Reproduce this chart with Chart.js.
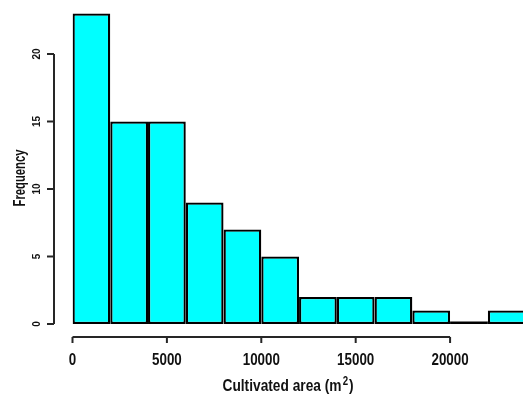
<!DOCTYPE html>
<html><head><meta charset="utf-8">
<script src="https://cdn.jsdelivr.net/npm/chart.js@4/dist/chart.umd.min.js"></script>
<style>html,body{margin:0;padding:0;overflow:hidden;background:#fff;width:523px;height:396px}canvas{display:block}</style>
</head><body>
<canvas id="c" width="530" height="396"></canvas>
<script>
const binStarts = [0,2000,4000,6000,8000,10000,12000,14000,16000,18000,20000,22000];
const binEnds   = [2000,4000,6000,8000,10000,12000,14000,16000,18000,20000,22000,24000];
const counts    = [23,15,15,9,7,5,2,2,2,1,0,1];
const xTickValues = [0,5000,10000,15000,20000];
const xTickLabels = ['0','5000','10000','15000','20000'];
const yTickValues = [0,5,10,15,20];
const yTickLabels = ['0','5','10','15','20'];
const xTitleMain = 'Cultivated area (m';
const xTitleSup = '2';
const xTitleEnd = ')';
const yTitle = 'Frequency';

const FONT = '"Liberation Sans", Arial, sans-serif';
const INK = '#111';

function drawText(ctx, s, x, y, size, rot, sx, baseline) {
  ctx.save();
  ctx.font = 'bold ' + size + 'px ' + FONT;
  ctx.translate(x, y); ctx.rotate(rot); ctx.scale(sx, 1);
  ctx.textAlign = 'center'; ctx.textBaseline = baseline || 'alphabetic';
  ctx.fillStyle = INK;
  ctx.fillText(s, 0, 0);
  ctx.restore();
}

const axesPlugin = {
  id: 'rAxes',
  afterDatasetsDraw(chart) {
    const ctx = chart.ctx, xs = chart.scales.x, ys = chart.scales.y;
    const base = ys.getPixelForValue(0);
    ctx.save();
    ctx.strokeStyle = '#000'; ctx.lineWidth = 2.4;
    counts.forEach((c, i) => {
      if (c === 0) {
        ctx.beginPath();
        ctx.moveTo(xs.getPixelForValue(binStarts[i]), base - 1.2);
        ctx.lineTo(xs.getPixelForValue(binEnds[i]), base - 1.2);
        ctx.stroke();
      }
    });
    ctx.restore();
  },
  afterDraw(chart) {
    const ctx = chart.ctx, xs = chart.scales.x, ys = chart.scales.y, ca = chart.chartArea;
    ctx.save();
    ctx.strokeStyle = '#262626'; ctx.lineWidth = 2;
    // y axis
    const yAxisX = ca.left - 18.5;
    const yTop = ys.getPixelForValue(yTickValues[yTickValues.length - 1]);
    const yBot = ys.getPixelForValue(yTickValues[0]);
    ctx.beginPath(); ctx.moveTo(yAxisX, yTop); ctx.lineTo(yAxisX, yBot); ctx.stroke();
    yTickValues.forEach((v, i) => {
      const p = ys.getPixelForValue(v);
      ctx.beginPath(); ctx.moveTo(yAxisX, p); ctx.lineTo(yAxisX - 7, p); ctx.stroke();
      drawText(ctx, yTickLabels[i], yAxisX - 16.5, p, 10, -Math.PI / 2, 1.0, 'middle');
    });
    // x axis
    const xAxisY = ca.bottom + 13;
    const xL = xs.getPixelForValue(xTickValues[0]);
    const xR = xs.getPixelForValue(xTickValues[xTickValues.length - 1]);
    ctx.beginPath(); ctx.moveTo(xL, xAxisY); ctx.lineTo(xR, xAxisY); ctx.stroke();
    xTickValues.forEach((v, i) => {
      const p = xs.getPixelForValue(v);
      ctx.beginPath(); ctx.moveTo(p, xAxisY); ctx.lineTo(p, xAxisY + 6); ctx.stroke();
      drawText(ctx, xTickLabels[i], p, xAxisY + 28, 16.5, 0, 0.81);
    });
    // x title with superscript
    const cx = 288, ty = xAxisY + 54, targetLen = 131;
    ctx.font = 'bold 17px ' + FONT;
    const w1 = ctx.measureText(xTitleMain).width, w3 = ctx.measureText(xTitleEnd).width;
    ctx.font = 'bold 12px ' + FONT;
    const w2 = ctx.measureText(xTitleSup).width;
    const nat = w1 + 1.5 + w2 + 1 + w3;
    const sx = targetLen / nat;
    let x0 = cx - targetLen / 2;
    ctx.fillStyle = INK; ctx.textBaseline = 'alphabetic'; ctx.textAlign = 'left';
    ctx.save(); ctx.translate(x0, ty); ctx.scale(sx, 1);
    ctx.font = 'bold 17px ' + FONT; ctx.fillText(xTitleMain, 0, 0);
    ctx.font = 'bold 12px ' + FONT; ctx.fillText(xTitleSup, w1 + 1.5, -6);
    ctx.font = 'bold 17px ' + FONT; ctx.fillText(xTitleEnd, w1 + 1.5 + w2 + 1, 0);
    ctx.restore();
    // y title
    ctx.font = 'bold 16px ' + FONT;
    const wy = ctx.measureText(yTitle).width;
    drawText(ctx, yTitle, 25, 178, 16, -Math.PI / 2, 57 / wy);
    ctx.restore();
  }
};

new Chart(document.getElementById('c'), {
  type: 'bar',
  data: {
    datasets: [{
      data: counts.map((c, i) => ({ x: (binStarts[i] + binEnds[i]) / 2, y: c })),
      backgroundColor: '#00FFFF',
      borderColor: '#000',
      borderWidth: 2.3,
      borderSkipped: false,
      barPercentage: 1,
      categoryPercentage: 1,
      inflateAmount: 0
    }]
  },
  options: {
    responsive: false,
    animation: false,
    layout: { padding: { left: 72.5, right: 4.4, top: 0, bottom: 72 } },
    plugins: { legend: { display: false }, tooltip: { enabled: false } },
    scales: {
      x: { type: 'linear', min: binStarts[0], max: binEnds[binEnds.length - 1], offset: false, display: false },
      y: { min: 0, max: 24, display: false }
    }
  },
  plugins: [axesPlugin]
});
</script>
</body></html>
